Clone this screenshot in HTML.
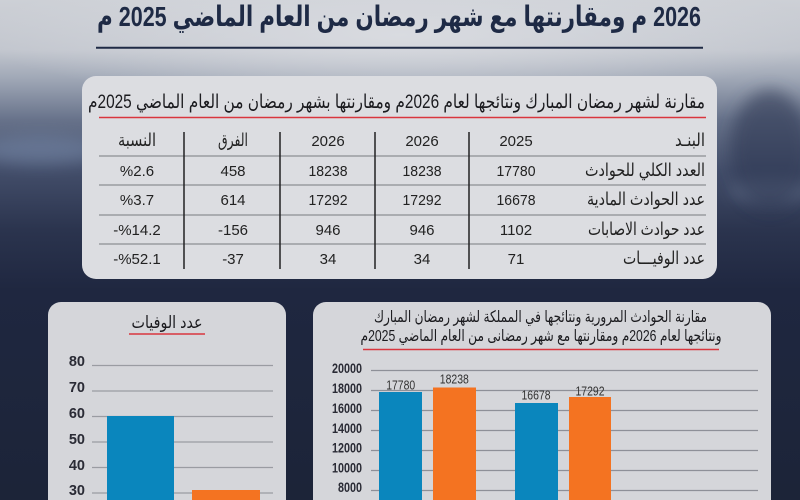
<!DOCTYPE html>
<html><head><meta charset="utf-8">
<style>
html,body{margin:0;padding:0;width:800px;height:500px;overflow:hidden;background:#1c2438}
svg{display:block}
text{font-family:"Liberation Sans","DejaVu Sans",sans-serif}
</style></head><body>
<svg width="800" height="500" viewBox="0 0 800 500" xmlns="http://www.w3.org/2000/svg">
<defs>
<linearGradient id="bg" x1="0" y1="0" x2="0" y2="1">
 <stop offset="0" stop-color="#cdd0d6"/>
 <stop offset="0.1" stop-color="#c2c6ce"/>
 <stop offset="0.16" stop-color="#9ea6b5"/>
 <stop offset="0.24" stop-color="#67728a"/>
 <stop offset="0.34" stop-color="#434e6a"/>
 <stop offset="0.46" stop-color="#2b344e"/>
 <stop offset="0.58" stop-color="#1f2740"/>
 <stop offset="1" stop-color="#1c2438"/>
</linearGradient>
<radialGradient id="glow" cx="0.5" cy="0.5" r="0.5">
 <stop offset="0" stop-color="#dadce1" stop-opacity="0.95"/>
 <stop offset="1" stop-color="#dadce1" stop-opacity="0"/>
</radialGradient>
<filter id="blur" x="-50%" y="-50%" width="200%" height="200%"><feGaussianBlur stdDeviation="8"/></filter>
</defs>

<!-- background -->
<rect x="0" y="0" width="800" height="500" fill="url(#bg)"/>
<ellipse cx="400" cy="35" rx="420" ry="70" fill="url(#glow)"/>
<ellipse cx="40" cy="150" rx="60" ry="14" fill="#7487a8" opacity="0.55" filter="url(#blur)"/>
<ellipse cx="770" cy="190" rx="40" ry="12" fill="#7f8ea8" opacity="0.45" filter="url(#blur)"/>
<ellipse cx="770" cy="150" rx="40" ry="60" fill="#2e3852" opacity="0.6" filter="url(#blur)"/>

<!-- main title -->
<text x="399" y="26" text-anchor="middle" direction="rtl" font-size="28" font-weight="bold" fill="#1e2a45" textLength="604" lengthAdjust="spacingAndGlyphs">2026 م ومقارنتها مع شهر رمضان من العام الماضي 2025 م</text>
<line x1="96" y1="47.7" x2="703" y2="47.7" stroke="#1f2a45" stroke-width="2"/>

<!-- top panel -->
<rect x="82" y="76" width="635" height="203" rx="14" fill="#dcdde1"/>
<text x="396.5" y="108" text-anchor="middle" direction="rtl" font-size="19" fill="#1b1b1f" textLength="617" lengthAdjust="spacingAndGlyphs">مقارنة لشهر رمضان المبارك ونتائجها لعام 2026م ومقارنتها بشهر رمضان من العام الماضي 2025م</text>
<line x1="99" y1="117.5" x2="706" y2="117.5" stroke="#d9363e" stroke-width="1.5"/>

<g stroke="#8c8e94" stroke-width="1.2">
 <line x1="99" y1="156" x2="706" y2="156"/>
 <line x1="99" y1="185" x2="706" y2="185"/>
 <line x1="99" y1="215" x2="706" y2="215"/>
 <line x1="99" y1="244" x2="706" y2="244"/>
</g>
<g stroke="#222" stroke-width="1.5">
 <line x1="184" y1="132" x2="184" y2="269"/>
 <line x1="280" y1="132" x2="280" y2="269"/>
 <line x1="375" y1="132" x2="375" y2="269"/>
 <line x1="469" y1="132" x2="469" y2="269"/>
</g>

<g font-size="17.5" fill="#222" direction="rtl" text-anchor="middle">
 <text x="690" y="146" textLength="30" lengthAdjust="spacingAndGlyphs">البنـد</text>
 <text x="645" y="176" textLength="120" lengthAdjust="spacingAndGlyphs">العدد الكلي للحوادث</text>
 <text x="646" y="205" textLength="118" lengthAdjust="spacingAndGlyphs">عدد الحوادث المادية</text>
 <text x="646.5" y="235" textLength="117" lengthAdjust="spacingAndGlyphs">عدد حوادث الاصابات</text>
 <text x="664" y="264" textLength="82" lengthAdjust="spacingAndGlyphs">عدد الوفيـــات</text>
 <text x="233" y="146" textLength="30" lengthAdjust="spacingAndGlyphs">الفرق</text>
 <text x="137" y="146" textLength="38" lengthAdjust="spacingAndGlyphs">النسبة</text>
</g>
<g font-size="15" fill="#222" text-anchor="middle">
 <text x="516" y="146">2025</text>
 <text x="422" y="146">2026</text>
 <text x="328" y="146">2026</text>

 <text x="516" y="176" textLength="39" lengthAdjust="spacingAndGlyphs">17780</text>
 <text x="422" y="176" textLength="39" lengthAdjust="spacingAndGlyphs">18238</text>
 <text x="328" y="176" textLength="39" lengthAdjust="spacingAndGlyphs">18238</text>
 <text x="233" y="176">458</text>
 <text x="137" y="176">%2.6</text>

 <text x="516" y="205" textLength="39" lengthAdjust="spacingAndGlyphs">16678</text>
 <text x="422" y="205" textLength="39" lengthAdjust="spacingAndGlyphs">17292</text>
 <text x="328" y="205" textLength="39" lengthAdjust="spacingAndGlyphs">17292</text>
 <text x="233" y="205">614</text>
 <text x="137" y="205">%3.7</text>

 <text x="516" y="235">1102</text>
 <text x="422" y="235">946</text>
 <text x="328" y="235">946</text>
 <text x="220.5" y="235">-</text><text x="235.5" y="235">156</text>
 <text x="115.8" y="235">-</text><text x="139.5" y="235">%14.2</text>

 <text x="516" y="264">71</text>
 <text x="422" y="264">34</text>
 <text x="328" y="264">34</text>
 <text x="224.7" y="264">-</text><text x="235.5" y="264">37</text>
 <text x="115.8" y="264">-</text><text x="139.5" y="264">%52.1</text>
</g>

<!-- left panel -->
<path d="M48 500 V315 A13 13 0 0 1 61 302 H273 A13 13 0 0 1 286 315 V500 Z" fill="#d5d6da"/>
<text x="167" y="328" text-anchor="middle" direction="rtl" font-size="17" fill="#1b1b1f" textLength="71" lengthAdjust="spacingAndGlyphs">عدد الوفيات</text>
<line x1="129" y1="334" x2="205" y2="334" stroke="#d9363e" stroke-width="1.5"/>
<g stroke="#9a9ca2" stroke-width="1.2">
 <line x1="92" y1="365.5" x2="273" y2="365.5"/>
 <line x1="92" y1="391" x2="273" y2="391"/>
 <line x1="92" y1="416.5" x2="273" y2="416.5"/>
 <line x1="92" y1="442" x2="273" y2="442"/>
 <line x1="92" y1="467.5" x2="273" y2="467.5"/>
 <line x1="92" y1="493" x2="273" y2="493"/>
</g>
<g font-size="14.5" font-weight="bold" fill="#2a2b35" text-anchor="end">
 <text x="85" y="366">80</text>
 <text x="85" y="392">70</text>
 <text x="85" y="418">60</text>
 <text x="85" y="444">50</text>
 <text x="85" y="470">40</text>
 <text x="85" y="495">30</text>
</g>
<rect x="107" y="416" width="67" height="84" fill="#0a86bd"/>
<rect x="192" y="490" width="68" height="10" fill="#f47321"/>

<!-- right panel -->
<path d="M313 500 V315 A13 13 0 0 1 326 302 H758 A13 13 0 0 1 771 315 V500 Z" fill="#d5d6da"/>
<text x="540.5" y="322" text-anchor="middle" direction="rtl" font-size="16" fill="#1b1b1f" textLength="333" lengthAdjust="spacingAndGlyphs">مقارنة الحوادث المرورية ونتائجها في المملكة لشهر رمضان المبارك</text>
<text x="541" y="341" text-anchor="middle" direction="rtl" font-size="16" fill="#1b1b1f" textLength="361" lengthAdjust="spacingAndGlyphs">ونتائجها لعام 2026م ومقارنتها مع شهر رمضانى من العام الماضي 2025م</text>
<line x1="363" y1="349.5" x2="719" y2="349.5" stroke="#d9363e" stroke-width="1.5"/>
<g stroke="#8e9098" stroke-width="1.2">
 <line x1="371" y1="370.5" x2="758" y2="370.5"/>
 <line x1="371" y1="390.5" x2="758" y2="390.5"/>
 <line x1="371" y1="410.5" x2="758" y2="410.5"/>
 <line x1="371" y1="430.5" x2="758" y2="430.5"/>
 <line x1="371" y1="450.5" x2="758" y2="450.5"/>
 <line x1="371" y1="470.5" x2="758" y2="470.5"/>
 <line x1="371" y1="490.5" x2="758" y2="490.5"/>
</g>
<g font-size="14" font-weight="bold" fill="#2a2b35" text-anchor="end">
 <text x="362" y="373" textLength="30" lengthAdjust="spacingAndGlyphs">20000</text>
 <text x="362" y="393" textLength="30" lengthAdjust="spacingAndGlyphs">18000</text>
 <text x="362" y="413" textLength="30" lengthAdjust="spacingAndGlyphs">16000</text>
 <text x="362" y="433" textLength="30" lengthAdjust="spacingAndGlyphs">14000</text>
 <text x="362" y="452.5" textLength="30" lengthAdjust="spacingAndGlyphs">12000</text>
 <text x="362" y="472.5" textLength="30" lengthAdjust="spacingAndGlyphs">10000</text>
 <text x="362" y="492" textLength="24" lengthAdjust="spacingAndGlyphs">8000</text>
</g>
<rect x="379" y="392" width="43" height="108" fill="#0a86bd"/>
<rect x="433" y="387.5" width="43" height="112.5" fill="#f47321"/>
<rect x="515" y="403" width="43" height="97" fill="#0a86bd"/>
<rect x="569" y="397" width="42" height="103" fill="#f47321"/>
<g font-size="13" fill="#333" text-anchor="middle">
 <text x="400.7" y="389.5" textLength="29" lengthAdjust="spacingAndGlyphs">17780</text>
 <text x="454.3" y="383.5" textLength="29" lengthAdjust="spacingAndGlyphs">18238</text>
 <text x="536" y="399.5" textLength="29" lengthAdjust="spacingAndGlyphs">16678</text>
 <text x="590" y="395.5" textLength="29" lengthAdjust="spacingAndGlyphs">17292</text>
</g>
</svg>
</body></html>
